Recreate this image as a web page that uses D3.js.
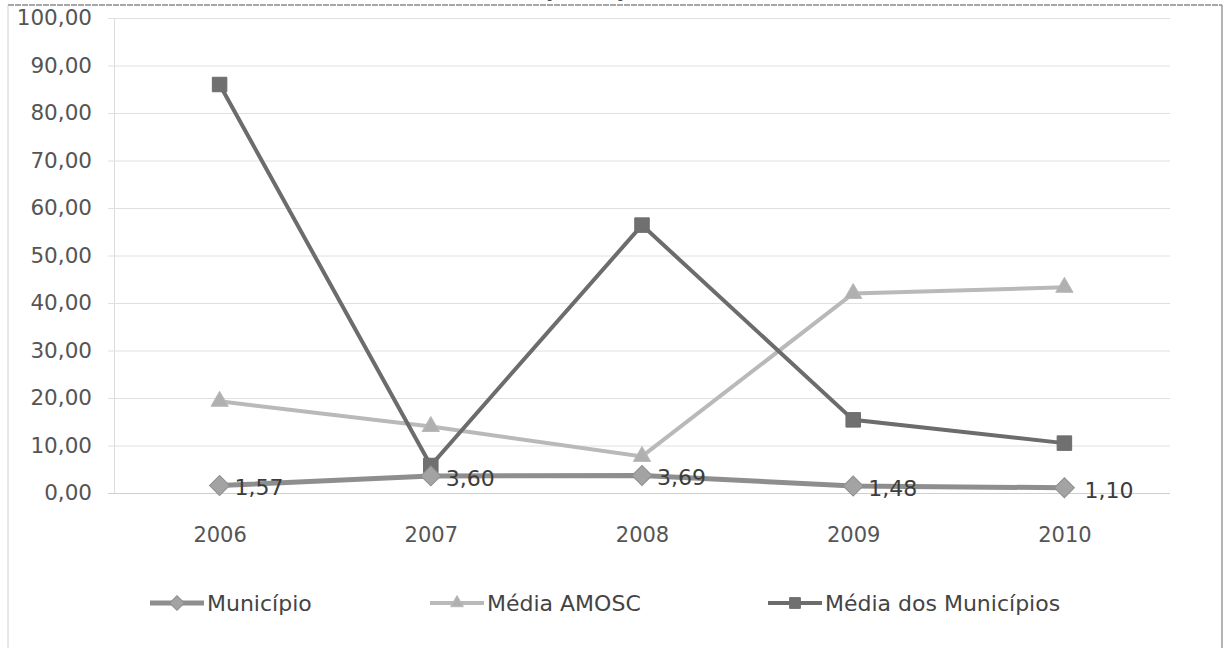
<!DOCTYPE html>
<html>
<head>
<meta charset="utf-8">
<script src="https://cdn.jsdelivr.net/npm/d3@7"></script>
<style>
  body { margin: 0; background: #fff; }
  svg { display: block; }
</style>
</head>
<body>
<svg id="chart" width="1227" height="648"></svg>
<script>
// chart values
var years = ['2006', '2007', '2008', '2009', '2010'];
var municipio = [1.57, 3.60, 3.69, 1.48, 1.10];
var mediaAmosc = [19.3, 14.0, 7.7, 42.0, 43.3];
var mediaMunicipios = [86.0, 5.8, 56.4, 15.4, 10.5];
var yTicks = [0, 10, 20, 30, 40, 50, 60, 70, 80, 90, 100];
var seriesNames = ['Município', 'Média AMOSC', 'Média dos Municípios'];
var titleText = 'Taxa de Reprovação Escolar 2006 - 2010';

var svg = d3.select('#chart');
var fontFam = '"DejaVu Sans", sans-serif';

// note: don't call it "top", that's window.top
var plotLeft = 114, plotRight = 1170, plotTop = 18, plotBottom = 493;

var x = d3.scalePoint().domain(years).range([plotLeft, plotRight]).padding(0.5);
var y = d3.scaleLinear().domain([0, 100]).range([plotBottom, plotTop]);

// pt-BR style numbers, comma decimals
function br(v) { return d3.format('.2f')(v).replace('.', ','); }

// outer frame of the scanned chart
svg.append('line').attr('x1', 8).attr('x2', 1222).attr('y1', 5).attr('y2', 5)
  .attr('stroke', '#8a8a8a').attr('stroke-width', 1.5).attr('stroke-dasharray', '6,1');
svg.append('line').attr('x1', 8).attr('x2', 8).attr('y1', 5).attr('y2', 648)
  .attr('stroke', '#d0d0d0');
svg.append('line').attr('x1', 1222).attr('x2', 1222).attr('y1', 5).attr('y2', 648)
  .attr('stroke', '#9a9a9a').attr('stroke-width', 1.5);

// title, mostly cut off in the scan - only the bottom pixels show
svg.append('text').attr('x', 895).attr('y', -3).attr('text-anchor', 'end')
  .attr('font-family', fontFam).attr('font-weight', 'bold').attr('font-size', 21)
  .attr('fill', '#555').text(titleText);

// y axis with gridlines
var yAxis = d3.axisLeft(y).tickValues(yTicks).tickFormat(br)
  .tickSize(-(plotRight - plotLeft)).tickPadding(22);
var gy = svg.append('g').attr('transform', 'translate(' + plotLeft + ',0)').call(yAxis);
gy.select('.domain').attr('stroke', '#dcdcdc');
gy.selectAll('.tick line').attr('stroke', '#e0e0e0').attr('x1', -6);
gy.selectAll('.tick text').attr('font-family', fontFam).attr('font-size', 21.5)
  .attr('fill', '#555');
gy.selectAll('.tick').filter(function(d) { return d === 0; }).select('line')
  .attr('stroke', '#cfcfcf');

// x axis, labels only
var xAxis = d3.axisBottom(x).tickSize(0).tickPadding(34);
var gx = svg.append('g').attr('transform', 'translate(0,' + plotBottom + ')').call(xAxis);
gx.select('.domain').remove();
gx.selectAll('.tick text').attr('font-family', fontFam).attr('font-size', 21)
  .attr('fill', '#555');

var line = d3.line().x(function(d, i) { return x(years[i]); }).y(function(d) { return y(d); });

// diamond = square turned 45deg (d3's diamond is too tall)
var styles = [
  { vals: municipio, color: '#8e8e8e', fill: '#a3a3a3', w: 5, shape: d3.symbolSquare, size: 200, rot: 45 },
  { vals: mediaAmosc, color: '#b9b9b9', fill: '#b0b0b0', w: 4, shape: d3.symbolTriangle, size: 130, rot: 0 },
  { vals: mediaMunicipios, color: '#6c6c6c', fill: '#707070', w: 4, shape: d3.symbolSquare, size: 210, rot: 0 }
];

// draw order: AMOSC, Municipios, then Município on top
[1, 2, 0].forEach(function(k) {
  var s = styles[k];
  svg.append('path').datum(s.vals).attr('d', line)
    .attr('fill', 'none').attr('stroke', s.color).attr('stroke-width', s.w);
  svg.selectAll('.m' + k).data(s.vals).enter().append('path')
    .attr('class', 'm' + k)
    .attr('transform', function(d, i) {
      return 'translate(' + x(years[i]) + ',' + y(d) + ') rotate(' + s.rot + ')';
    })
    .attr('d', d3.symbol().type(s.shape).size(s.size))
    .attr('fill', s.fill).attr('stroke', s.color).attr('stroke-width', 1);
});

// data labels for Município
svg.selectAll('.lbl').data(municipio).enter().append('text')
  .attr('class', 'lbl')
  .attr('x', function(d, i) { return x(years[i]) + (i === 4 ? 20 : 15); })
  .attr('y', function(d) { return y(d) + 2; })
  .attr('dy', '0.36em')
  .attr('font-family', fontFam).attr('font-size', 22).attr('fill', '#3c3c3c')
  .text(br);

// legend
var legX = [150, 430, 768];
var legY = 603;
seriesNames.forEach(function(name, k) {
  var s = styles[k];
  var g = svg.append('g').attr('transform', 'translate(' + legX[k] + ',' + legY + ')');
  g.append('line').attr('x1', 0).attr('x2', 54).attr('y1', 0).attr('y2', 0)
    .attr('stroke', s.color).attr('stroke-width', s.w);
  g.append('path').attr('transform', 'translate(27,0) rotate(' + s.rot + ')')
    .attr('d', d3.symbol().type(s.shape).size(s.size * 0.55))
    .attr('fill', s.fill).attr('stroke', s.color);
  g.append('text').attr('x', 57).attr('y', 0).attr('dy', '0.36em')
    .attr('font-family', fontFam).attr('font-size', 22).attr('fill', '#444')
    .text(name);
});
</script>
</body>
</html>
